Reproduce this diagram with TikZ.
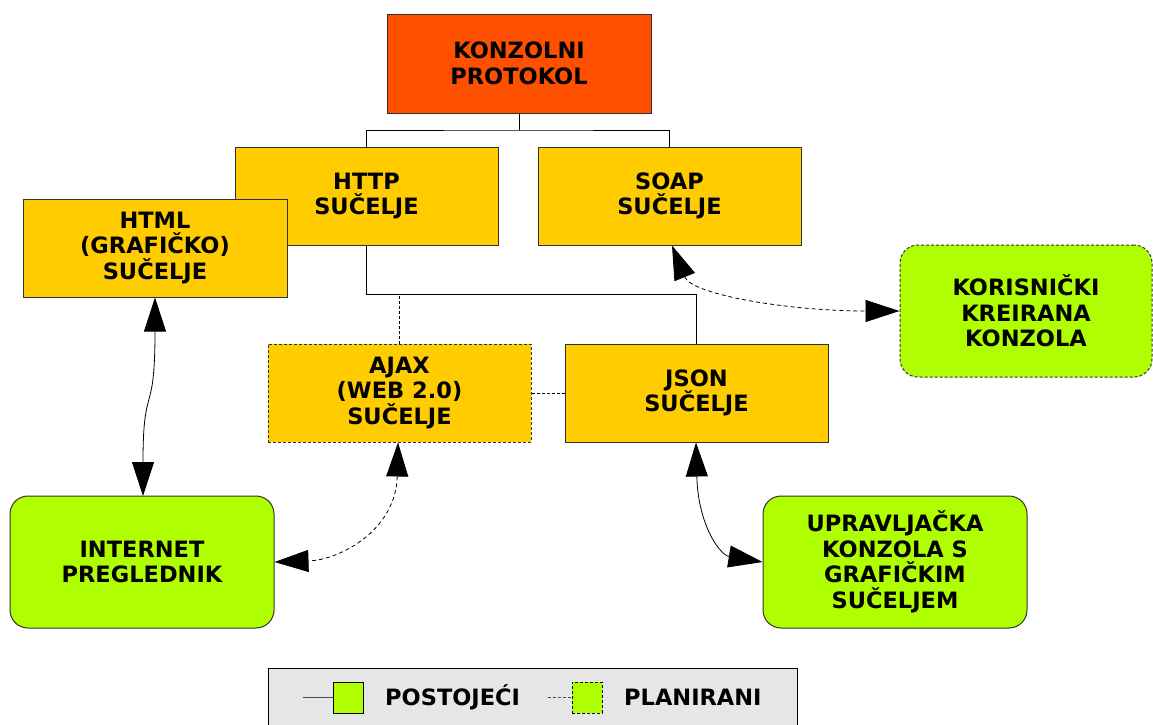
\documentclass[tikz,border=0pt]{standalone}
\usepackage{fontspec}
\setmainfont{DejaVu Sans}
\usetikzlibrary{arrows.meta}
\definecolor{cred}{RGB}{255,80,0}
\definecolor{cyel}{RGB}{255,204,0}
\definecolor{cgrn}{RGB}{176,255,0}
\definecolor{cbord}{RGB}{50,50,50}
\definecolor{clegend}{RGB}{230,230,230}
\tikzset{
  box/.style={draw=cbord, line width=1pt, fill=cyel, minimum width=264pt, minimum height=98pt,
    align=center, inner sep=0pt, font=\fontsize{22.5}{25.5}\selectfont\bfseries},
  gbox/.style={box, fill=cgrn, rounded corners=18pt, minimum height=132pt},
  planned/.style={dash pattern=on 3pt off 2pt},
  conn/.style={draw=black, line width=0.8pt},
  biarrow/.style={line width=0.8pt, {Triangle[length=34pt,width=22pt]}-{Triangle[length=34pt,width=22pt]}},
  dashcurve/.style={dash pattern=on 4pt off 3pt},
  legtext/.style={anchor=west, inner sep=0pt, font=\fontsize{22.5}{25.5}\selectfont\bfseries}
}
\begin{document}
\begin{tikzpicture}[x=1pt,y=-1pt]
\useasboundingbox (0,0) rectangle (1153,724);
\coordinate (t1) at (519,130);
\coordinate (t2) at (366.5,294);
\node[box, fill=cred, minimum width=264pt, minimum height=99pt] (red) at (519,63.5) {KONZOLNI\\PROTOKOL};
\node[box, minimum width=263pt] (http) at (366.5,196) {HTTP\\SUČELJE};
\node[box, minimum width=263pt] (soap) at (669.5,196) {SOAP\\SUČELJE};
\draw[conn] (red.south) -- (t1);
\draw[conn] (http.north) |- (t1) -| (soap.north);
\draw[conn] (http.south) -- (t2) -| (696.5,344) coordinate (jtop);
\node[box] (html) at (155,248) {HTML\\(GRAFIČKO)\\SUČELJE};
\node[box, minimum width=263pt, planned] (ajax) at (399.5,393) {AJAX\\(WEB 2.0)\\SUČELJE};
\node[box, minimum width=263pt] (json) at (696.5,393) {JSON\\SUČELJE};
\draw[conn, planned] (ajax.north) -- (ajax.north |- t2);
\draw[conn, planned] (ajax.east) -- (json.west);
\node[gbox, minimum width=252pt, planned] (kor) at (1026,311) {KORISNIČKI\\KREIRANA\\KONZOLA};
\node[gbox] (inet) at (142,562) {INTERNET\\PREGLEDNIK};
\node[gbox] (upr) at (895,562) {UPRAVLJAČKA\\KONZOLA S\\GRAFIČKIM\\SUČELJEM};
% arrows
\draw[biarrow] (155,297.5) .. controls (155,420) and (143,380) .. (143,496);
\draw[biarrow, dashcurve] (398,442.5) .. controls (396,530) and (340,560) .. (inet.east);
\draw[biarrow] (696,442.5) .. controls (698,525) and (720,555) .. (upr.west);
\draw[biarrow, dashcurve] (672,245.5) .. controls (692,295) and (790,311) .. (kor.west);
% legend
\node[draw=black, line width=0.9pt, fill=clegend, minimum width=529pt, minimum height=70pt, inner sep=0pt] (leg) at (532.5,703) {};
\node[draw=black, line width=0.9pt, fill=cgrn, minimum width=30pt, minimum height=31pt, inner sep=0pt] (sq1) at (348,697.5) {};
\coordinate (l1) at (303,697.5);
\draw[draw=black!70, line width=0.8pt] (l1) -- (sq1.west);
\node[legtext] (lt1) at (385,697.5) {POSTOJEĆI};
\node[draw=black, line width=0.9pt, planned, fill=cgrn, minimum width=30pt, minimum height=31pt, inner sep=0pt] (sq2) at (587,697.5) {};
\coordinate (l2) at (548,697.5);
\draw[draw=black!70, line width=0.8pt, planned] (l2) -- (sq2.west);
\node[legtext] (lt2) at (624,697.5) {PLANIRANI};
\end{tikzpicture}
\end{document}
